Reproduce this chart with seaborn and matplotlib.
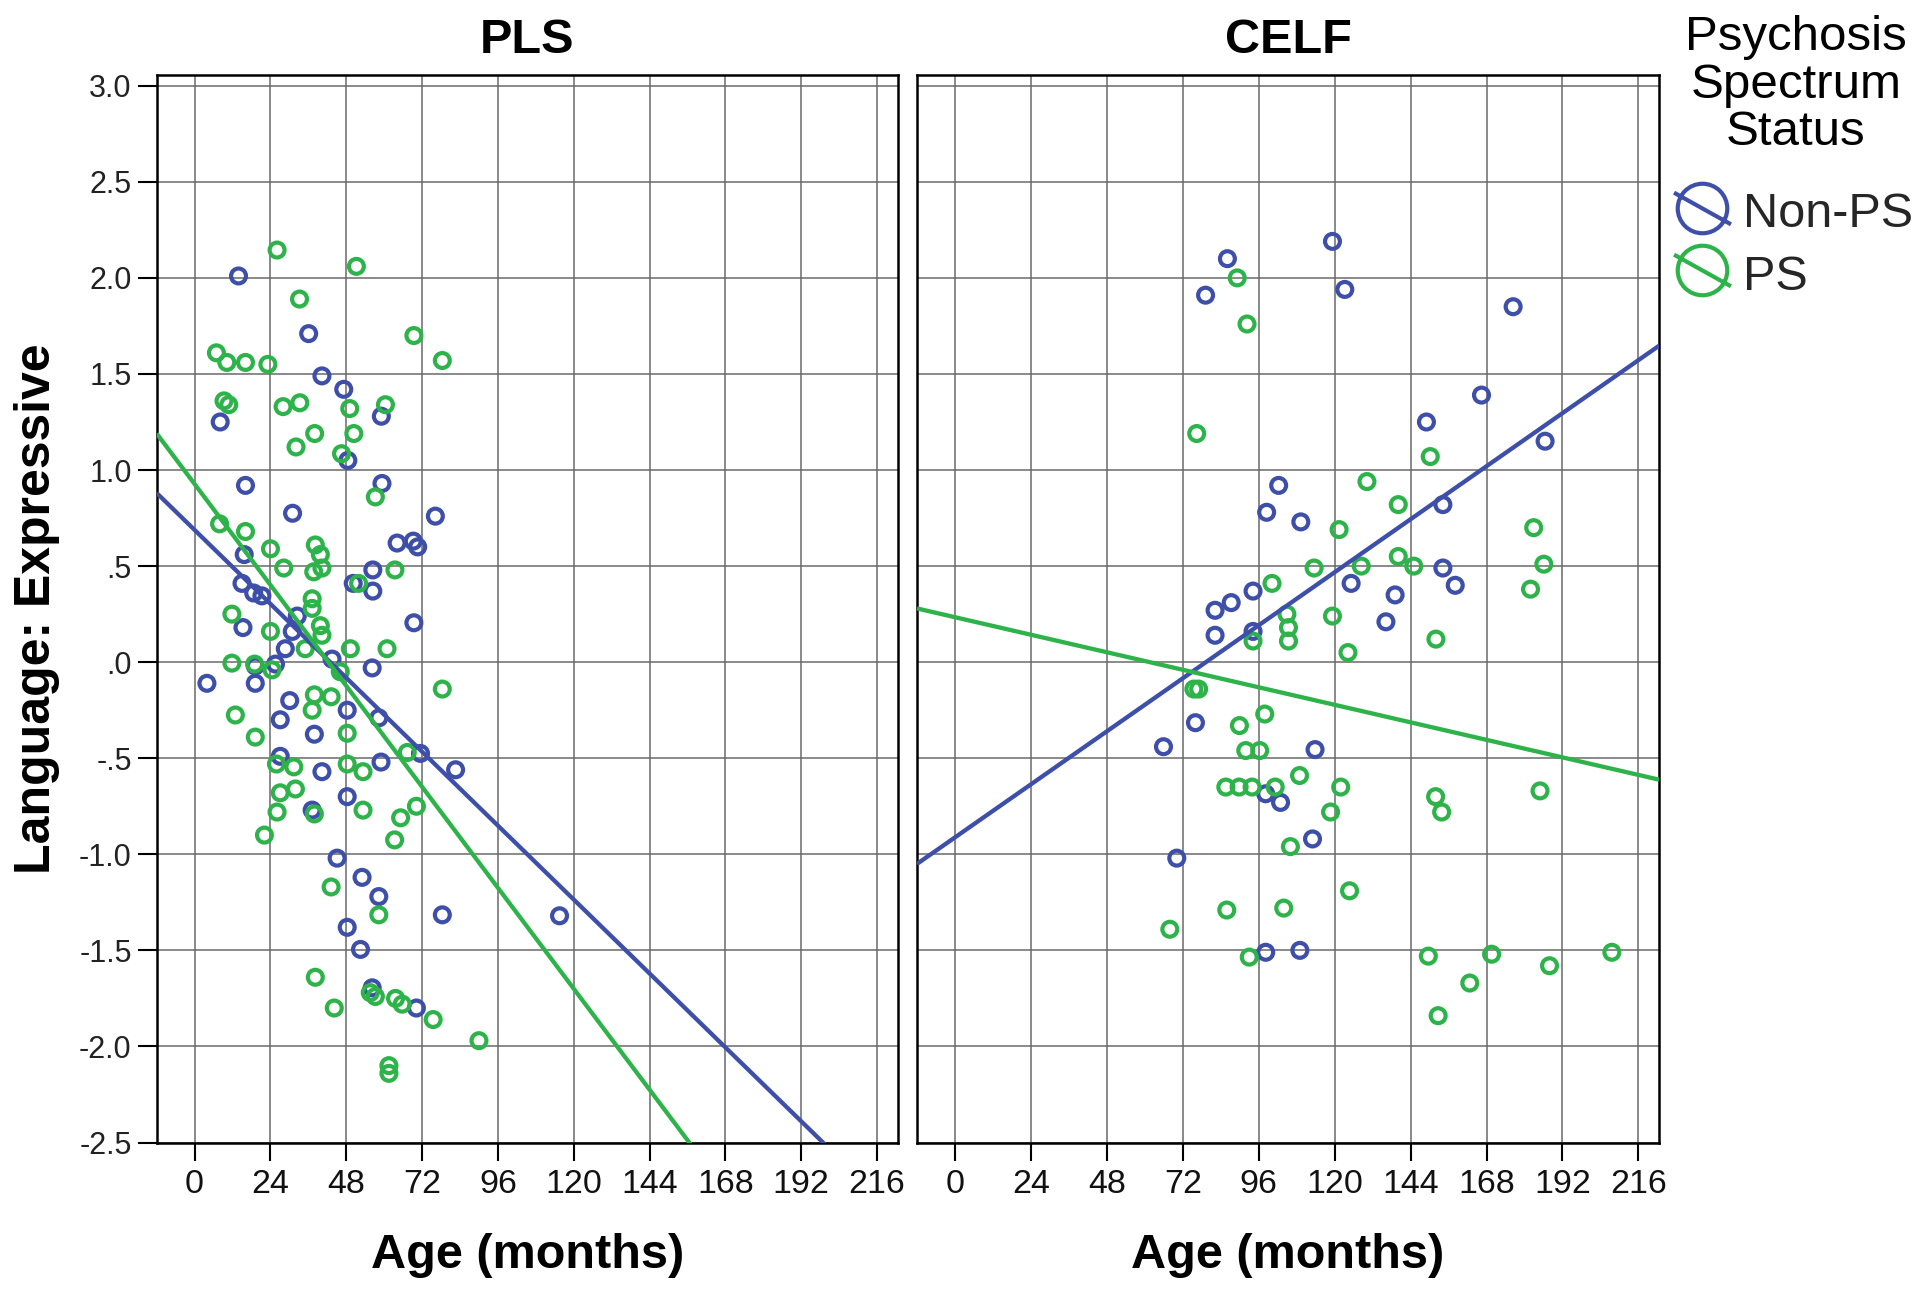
import matplotlib
matplotlib.use("Agg")
import matplotlib.pyplot as plt
import seaborn as sns
import pandas as pd
import numpy as np
from matplotlib.lines import Line2D
from matplotlib.path import Path
from matplotlib.ticker import FuncFormatter

# ---------------- data ----------------
panels = ["PLS", "CELF"]
statuses = ["Non-PS", "PS"]

pls_nonps_age = [13.9, 36.1, 40.3, 47.2, 8.1, 59.1, 48.5, 16.1, 59.3, 31.0, 76.2, 15.7, 64.1, 69.2,
                 70.6, 50.2, 56.4, 56.4, 15.0, 18.7, 21.3, 15.3, 69.4, 32.5, 30.9, 28.7, 43.5, 56.2,
                 19.2, 25.6, 3.9, 19.2, 30.1, 48.3, 27.1, 58.3, 37.9, 27.1, 40.3, 59.0, 71.5, 82.6,
                 48.3, 37.2, 45.1, 53.0, 58.3, 78.4, 48.3, 52.5, 56.2, 70.2, 115.5]
pls_nonps_score = [2.01, 1.71, 1.49, 1.42, 1.25, 1.28, 1.05, 0.92, 0.93, 0.775, 0.76, 0.56, 0.62, 0.63,
                   0.60, 0.41, 0.48, 0.37, 0.41, 0.36, 0.345, 0.18, 0.205, 0.24, 0.16, 0.07, 0.016, -0.03,
                   -0.02, -0.01, -0.11, -0.11, -0.20, -0.25, -0.30, -0.29, -0.375, -0.49, -0.57, -0.52, -0.475, -0.56,
                   -0.70, -0.77, -1.02, -1.12, -1.22, -1.315, -1.38, -1.495, -1.695, -1.80, -1.32]

pls_ps_age = [26.1, 51.2, 33.2, 69.4, 78.4, 6.9, 10.2, 16.1, 23.2, 9.3, 10.8, 28.0, 33.3, 49.1, 60.4,
              38.0, 50.4, 32.1, 46.5, 57.2, 7.9, 16.1, 24.0, 38.2, 39.8, 63.4, 28.2, 37.7, 40.3, 51.9,
              11.8, 24.0, 37.2, 37.2, 39.8, 40.3, 35.0, 49.3, 60.9, 11.8, 19.0, 24.5, 46.1, 78.4, 37.9,
              43.2, 37.2, 12.9, 48.3, 19.2, 25.9, 31.4, 48.3, 53.3, 67.3, 27.1, 31.9, 26.1, 37.9, 53.3,
              65.2, 70.2, 22.1, 63.3, 43.2, 58.3, 38.2, 44.2, 55.6, 57.2, 63.6, 65.7, 75.5, 90.0, 61.5, 61.5]
pls_ps_score = [2.145, 2.06, 1.89, 1.70, 1.57, 1.61, 1.56, 1.56, 1.55, 1.36, 1.34, 1.33, 1.35, 1.32, 1.34,
                1.19, 1.19, 1.12, 1.085, 0.86, 0.72, 0.68, 0.59, 0.61, 0.56, 0.48, 0.49, 0.47, 0.49, 0.41,
                0.25, 0.16, 0.33, 0.28, 0.19, 0.14, 0.07, 0.07, 0.07, -0.005, -0.01, -0.04, -0.05, -0.14, -0.17,
                -0.18, -0.25, -0.275, -0.37, -0.39, -0.53, -0.545, -0.53, -0.57, -0.47, -0.68, -0.66, -0.78, -0.79, -0.77,
                -0.81, -0.75, -0.90, -0.925, -1.17, -1.315, -1.64, -1.80, -1.72, -1.74, -1.75, -1.78, -1.86, -1.97, -2.10, -2.14]

celf_nonps_age = [86.1, 79.2, 119.3, 123.2, 176.4, 166.4, 149.0, 186.5, 154.2, 102.3, 98.5, 109.3, 125.2,
                  139.1, 136.2, 154.2, 158.1, 94.2, 87.3, 82.2, 82.2, 94.2, 76.0, 65.9, 113.8, 98.2, 102.9,
                  113.0, 70.1, 98.2, 109.0]
celf_nonps_score = [2.10, 1.91, 2.19, 1.94, 1.85, 1.39, 1.25, 1.15, 0.82, 0.92, 0.78, 0.73, 0.41,
                    0.35, 0.21, 0.49, 0.40, 0.37, 0.31, 0.27, 0.14, 0.16, -0.315, -0.44, -0.455, -0.685, -0.73,
                    -0.92, -1.02, -1.51, -1.50]

celf_ps_age = [89.2, 92.3, 76.4, 130.2, 140.1, 121.4, 182.9, 140.1, 145.0, 128.4, 186.1, 181.9, 119.3,
               152.0, 124.2, 150.2, 113.5, 100.2, 104.9, 105.4, 105.4, 94.2, 75.5, 77.0, 97.9, 89.9, 91.9,
               96.3, 108.9, 121.9, 85.6, 89.8, 93.9, 101.2, 118.7, 151.9, 153.8, 184.9, 106.0, 124.7, 85.9,
               103.9, 67.9, 93.0, 149.6, 169.6, 187.9, 207.6, 162.7, 152.7]
celf_ps_score = [2.00, 1.76, 1.19, 0.94, 0.82, 0.69, 0.70, 0.55, 0.50, 0.50, 0.51, 0.38, 0.24,
                 0.12, 0.05, 1.07, 0.49, 0.41, 0.25, 0.18, 0.11, 0.11, -0.14, -0.14, -0.27, -0.33, -0.46,
                 -0.46, -0.59, -0.65, -0.65, -0.65, -0.65, -0.65, -0.78, -0.70, -0.78, -0.67, -0.96, -1.19, -1.29,
                 -1.28, -1.39, -1.535, -1.53, -1.52, -1.58, -1.51, -1.67, -1.84]

# fitted line coefficients: intercept, slope (per month)
pls_fit_intercept = [0.688, 0.927]
pls_fit_slope = [-0.01603, -0.02189]
celf_fit_intercept = [-0.912, 0.234]
celf_fit_slope = [0.0115, -0.0038]

x_ticks = [0, 24, 48, 72, 96, 120, 144, 168, 192, 216]
y_ticks = [-2.5, -2.0, -1.5, -1.0, -0.5, 0.0, 0.5, 1.0, 1.5, 2.0, 2.5, 3.0]

legend_title = "Psychosis\nSpectrum\nStatus"
x_label = "Age (months)"
y_label = "Language: Expressive"

# ---------------- build table ----------------
rows = []
for panel, groups in (("PLS", [(pls_nonps_age, pls_nonps_score), (pls_ps_age, pls_ps_score)]),
                      ("CELF", [(celf_nonps_age, celf_nonps_score), (celf_ps_age, celf_ps_score)])):
    for status, (ages, scores) in zip(statuses, groups):
        for a, s in zip(ages, scores):
            rows.append({"panel": panel, "status": status, "age": a, "score": s})
df = pd.DataFrame(rows)

fits = {"PLS": (pls_fit_intercept, pls_fit_slope), "CELF": (celf_fit_intercept, celf_fit_slope)}

# ---------------- style ----------------
sns.set_theme(style="white")
plt.rcParams["font.family"] = ["Liberation Sans", "DejaVu Sans"]

palette = {"Non-PS": "#3E4FA9", "PS": "#2DB34A"}

fig = plt.figure(figsize=(19.2, 13.01), dpi=100)
W, H = 1920, 1301
ax_top, ax_bot = 75, 1142.5
axes_px = [(156.7, 897.6), (917.0, 1659.0)]
axes = []
for (l, r) in axes_px:
    axes.append(fig.add_axes([l / W, 1 - ax_bot / H, (r - l) / W, (ax_bot - ax_top) / H]))

def yfmt(v, pos):
    s = f"{v:.1f}"
    if s.startswith("0."):
        s = s[1:]
    elif s.startswith("-0."):
        s = "-" + s[2:]
    return s

xlim = (-12, 222.5)
ylim = (-2.5, 3.056)

for i, (ax, panel) in enumerate(zip(axes, panels)):
    sub = df[df.panel == panel]
    sns.scatterplot(data=sub, x="age", y="score", hue="status", hue_order=statuses,
                    palette=palette, s=115, ax=ax, legend=False, zorder=3)
    for coll in ax.collections:
        fc = coll.get_facecolors()
        coll.set_edgecolors(fc)
        coll.set_facecolors("none")
        coll.set_linewidths(3.0)
    b0s, b1s = fits[panel]
    xs = np.array(xlim)
    for st, b0, b1 in zip(statuses, b0s, b1s):
        ax.plot(xs, b0 + b1 * xs, color=palette[st], lw=3.1, zorder=4, solid_capstyle="butt")
    ax.set_xlim(*xlim)
    ax.set_ylim(*ylim)
    ax.set_xticks(x_ticks)
    ax.set_yticks(y_ticks)
    ax.grid(True, color="#6a6a6a", lw=1.1)
    ax.set_axisbelow(True)
    for sp in ax.spines.values():
        sp.set_visible(True)
        sp.set_color("black")
        sp.set_linewidth(1.8)
    ax.tick_params(axis="x", direction="out", length=13, width=1.5, color="black",
                   labelsize=24.5, pad=6, bottom=True, labelcolor="#111111")
    ax.set_title(panel, fontsize=35, fontweight="bold", pad=16, color="black")
    ax.set_xlabel(x_label, fontsize=35, fontweight="bold", labelpad=24, color="black")
    if i == 0:
        ax.tick_params(axis="y", direction="out", length=14, width=1.5, color="black",
                       labelsize=22, pad=4, left=True, labelcolor="#222222")
        ax.yaxis.set_major_formatter(FuncFormatter(yfmt))
        ax.set_ylabel(y_label, fontsize=36, fontweight="bold", labelpad=14, color="black")
    else:
        ax.tick_params(axis="y", left=False, labelleft=False)
        ax.set_ylabel("")

# ---------------- legend ----------------
fig.text(1796 / W, 1 - 85 / H, legend_title, ha="center", va="center", fontsize=35.5,
         multialignment="center", linespacing=1.08, color="black")

symbol = Path.make_compound_path(
    Path.unit_circle(),
    Path([(-1.15, 0.64), (1.15, -0.64)], [Path.MOVETO, Path.LINETO]),
)
handles = [Line2D([], [], ls="none", marker=symbol, markersize=41, markerfacecolor="none",
                  markeredgecolor=palette[st], markeredgewidth=3.0) for st in statuses]

leg = fig.legend(handles, statuses, loc="center left",
                 bbox_to_anchor=(1668 / W, 1 - 244 / H), frameon=False,
                 fontsize=35, handlelength=1.4, handletextpad=0.14, handleheight=1.0,
                 labelspacing=0.3, borderpad=0.0, borderaxespad=0.0)

fig.savefig("out.png", dpi=100)
